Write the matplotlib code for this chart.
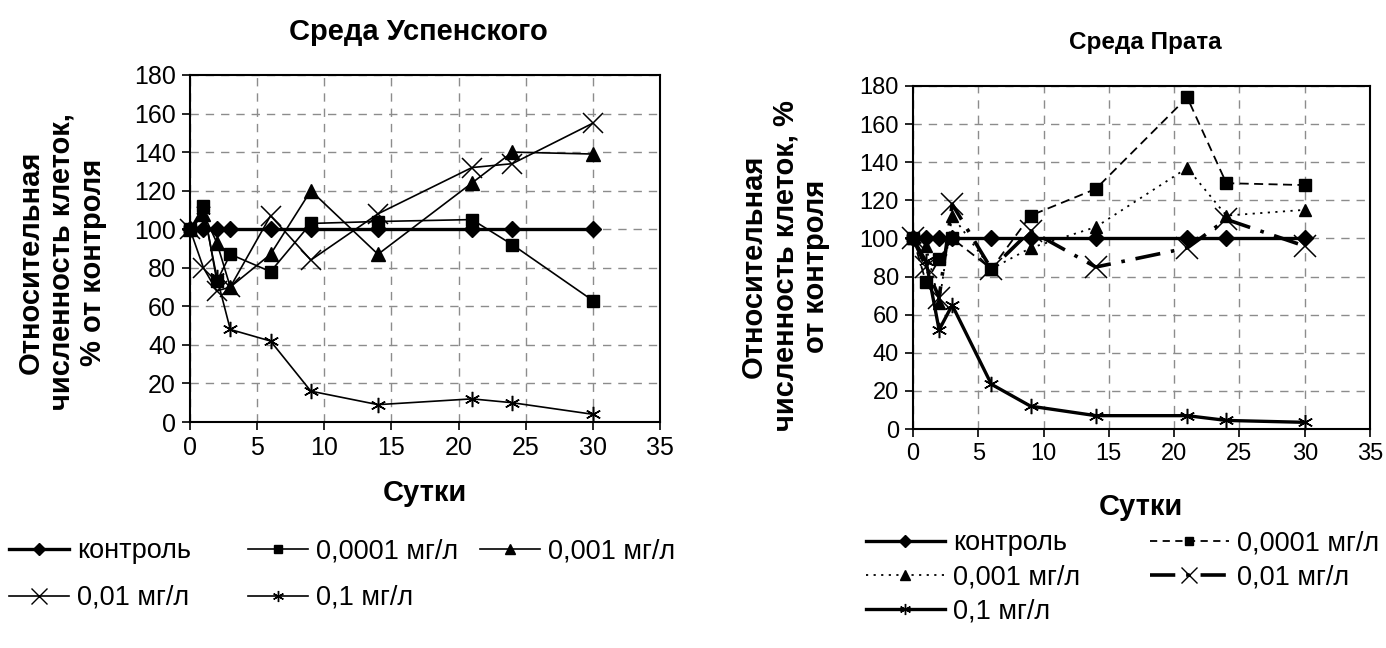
import matplotlib
matplotlib.use("Agg")
import matplotlib.pyplot as plt
from matplotlib.lines import Line2D

plt.rcParams["font.family"] = ["Liberation Sans", "DejaVu Sans"]

W, H = 1386, 648

# days of observation
days = [0, 1, 2, 3, 6, 9, 14, 21, 24, 30]

# Среда Успенского, % of control
usp_control = [100, 100, 100, 100, 100, 100, 100, 100, 100, 100]
usp_0001 = [100, 112, 73, 87, 78, 103, 104, 105, 92, 63]
usp_001 = [100, 108, 93, 70, 87, 120, 87, 124, 140, 139]
usp_01 = [100, 80, 68, 70, 107, 84, 108, 132, 134, 155]
usp_1 = [100, 110, 75, 48, 42, 16, 9, 12, 10, 4]

# Среда Прата, % of control
prat_control = [100, 100, 100, 100, 100, 100, 100, 100, 100, 100]
prat_0001 = [100, 77, 89, 100, 84, 112, 126, 174, 129, 128]
prat_001 = [100, 96, 66, 112, 84, 95, 106, 137, 112, 115]
prat_01 = [100, 85, 69, 118, 84, 104, 85, 95, 110, 96]
prat_1 = [100, 88, 52, 65, 23.5, 12, 7, 7, 4.5, 3.5]

labels = ["контроль", "0,0001 мг/л", "0,001 мг/л", "0,01 мг/л", "0,1 мг/л"]

LEG_FS = 19.5
TITLE_FS = 21
star = (6, 2, 0)

fig = plt.figure(figsize=(W / 100, H / 100), dpi=100)


def px_axes(x0, y0, x1, y1):
    return fig.add_axes([x0 / W, 1 - y1 / H, (x1 - x0) / W, (y1 - y0) / H])


def style_axes(ax, tick_fs):
    ax.set_xlim(0, 35)
    ax.set_ylim(0, 180)
    ax.set_xticks(range(0, 36, 5))
    ax.set_yticks(range(0, 181, 20))
    ax.grid(True, color="#8c8c8c", linestyle=(0, (6, 5)), linewidth=1.0)
    ax.set_axisbelow(True)
    for s in ax.spines.values():
        s.set_linewidth(1.5)
        s.set_color("black")
    ax.tick_params(direction="out", length=6, width=1.2, labelsize=tick_fs, pad=4)


def add_entry(handle, label, x_px, y_px, hl):
    fig.legend([handle], [label], loc="center left",
               bbox_to_anchor=(x_px / W, 1 - y_px / H), frameon=False,
               borderpad=0, borderaxespad=0, handlelength=hl,
               handletextpad=0.3, fontsize=LEG_FS)


# ---- left chart: Среда Успенского ----
ax1 = px_axes(190, 75, 660, 422)
style_axes(ax1, 18)
kw = dict(color="black", clip_on=False)
ax1.plot(days, usp_control, lw=2.4, marker="D", ms=8, **kw)
ax1.plot(days, usp_0001, lw=1.2, marker="s", ms=9, **kw)
ax1.plot(days, usp_001, lw=1.2, marker="^", ms=10, **kw)
ax1.plot(days, usp_01, lw=1.2, marker="x", ms=15, mew=1.1, **kw)
ax1.plot(days, usp_1, lw=1.2, marker=star, ms=11, mew=1.1, **kw)

fig.text(418 / W, 1 - 32 / H, "Среда Успенского", ha="center", va="center",
         fontsize=TITLE_FS, fontweight="bold")
fig.text(425 / W, 1 - 493 / H, "Сутки", ha="center", va="center",
         fontsize=TITLE_FS, fontweight="bold")
fig.text(62 / W, 1 - 262 / H, "Относительная\nчисленность клеток,\n% от контроля",
         ha="center", va="center", rotation=90, multialignment="center",
         fontsize=TITLE_FS, fontweight="bold", linespacing=1.15)

lh = [
    Line2D([], [], color="black", lw=2.4, marker="D", ms=6),
    Line2D([], [], color="black", lw=1.2, marker="s", ms=6),
    Line2D([], [], color="black", lw=1.2, marker="^", ms=7),
    Line2D([], [], color="black", lw=1.2, marker="x", ms=11, mew=1.0),
    Line2D([], [], color="black", lw=1.2, marker=star, ms=8, mew=1.0),
]
left_pos = [(9, 551), (248, 551), (480, 551), (9, 598), (248, 598)]
for h, lab, (x, y) in zip(lh, labels, left_pos):
    add_entry(h, lab, x, y, 2.2)

# ---- right chart: Среда Прата ----
ax2 = px_axes(913, 86, 1370, 429)
style_axes(ax2, 17)
ax2.plot(days, prat_control, lw=2.4, marker="D", ms=8, **kw)
ax2.plot(days, prat_0001, lw=1.3, ls=(0, (5, 3)), marker="s", ms=9, **kw)
ax2.plot(days, prat_001, lw=1.3, ls=(0, (1.2, 3)), marker="^", ms=9, **kw)
ax2.plot(days, prat_01, lw=2.6, ls=(0, (7, 3, 1, 3)), marker="x", ms=16, mew=1.1, **kw)
ax2.plot(days, prat_1, lw=2.4, marker=star, ms=11, mew=1.1, **kw)

fig.text(1145 / W, 1 - 43 / H, "Среда Прата", ha="center", va="center",
         fontsize=17.5, fontweight="bold")
fig.text(1141 / W, 1 - 507 / H, "Сутки", ha="center", va="center",
         fontsize=TITLE_FS, fontweight="bold")
fig.text(785 / W, 1 - 266 / H, "Относительная\nчисленность клеток, %\nот контроля",
         ha="center", va="center", rotation=90, multialignment="center",
         fontsize=TITLE_FS, fontweight="bold", linespacing=1.15)

rh = [
    Line2D([], [], color="black", lw=2.4, marker="D", ms=6),
    Line2D([], [], color="black", lw=1.3, ls=(0, (4, 3)), marker="s", ms=6),
    Line2D([], [], color="black", lw=1.3, ls=(0, (1.2, 3)), marker="^", ms=7),
    Line2D([], [], color="black", lw=2.6, ls=(0, (7, 3, 1, 3)), marker="x", ms=11, mew=1.0),
    Line2D([], [], color="black", lw=2.4, marker=star, ms=8, mew=1.0),
]
right_pos = [(866, 543), (1150, 543), (866, 577), (1150, 577), (866, 611)]
for h, lab, (x, y) in zip(rh, labels, right_pos):
    add_entry(h, lab, x, y, 2.9)

fig.savefig("out.png", dpi=100)
